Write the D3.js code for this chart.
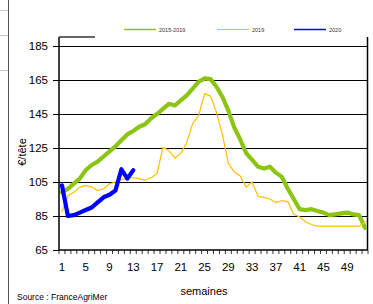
<!DOCTYPE html>
<html>
<head>
<meta charset="utf-8">
<script src="https://cdn.jsdelivr.net/npm/d3@7/dist/d3.min.js"></script>
<style>
  body { margin: 0; background: #fff; }
  svg { display: block; font-family: "Liberation Sans", Arial, sans-serif; }
</style>
</head>
<body>
<div id="chart"></div>
<script>
// semaines 1..52
weeks = d3.range(1, 53);
xTickLabels = [1, 5, 9, 13, 17, 21, 25, 29, 33, 37, 41, 45, 49];
yTicks = [65, 85, 105, 125, 145, 165, 185];

// moyenne 2015-2019
avg1519 = [99, 101, 104, 107, 112, 115, 117, 120, 123, 126,
    129.5, 133, 135, 137.5, 139, 142.5, 145, 148, 151, 150,
    153, 156, 160, 164, 166, 165.5, 161, 155, 147, 137,
    130, 122, 118, 114, 113, 114, 110.5, 108, 101, 95,
    89, 88.5, 89, 88, 87, 85.5, 86, 86.5, 87, 86,
    85.5, 78];
// 2019
y2019 = [87.5, 97, 99, 102, 103, 102, 100, 101, 104, 105,
    106.5, 107, 107.5, 107, 106, 107.5, 110, 125.5, 123.5, 119,
    122, 128, 139.5, 144, 157, 155.5, 146, 133, 116, 111,
    108.5, 102, 105, 96.5, 96, 95, 93, 94, 93.5, 86,
    84.5, 81.5, 80, 79, 79, 79, 79, 79, 79, 79,
    79, 81.5];
// 2020
y2020 = [103, 85, 85.5, 87, 88.5, 90, 93, 96, 97.5, 100, 112.5, 107, 112];

seriesNames = ["2015-2019", "2019", "2020"];
seriesColors = ["#8cc414", "#ffc000", "#0000ff"];
seriesWidths = [4.2, 1.2, 4.2];

width = 373;
height = 304;

svg = d3.select("#chart").append("svg")
    .attr("width", width)
    .attr("height", height);

// restes de la feuille de calcul a gauche
svg.append("line").attr("x1", 8.5).attr("x2", 8.5).attr("y1", 0).attr("y2", height)
    .attr("stroke", "#555").attr("stroke-width", 1);
[10.5, 35.5, 70.5].forEach(function (yy) {
    svg.append("line").attr("x1", 0).attr("x2", 8).attr("y1", yy).attr("y2", yy)
        .attr("stroke", "#c8c8c8");
});

/* Scales */
xScale = d3.scaleBand().domain(weeks).range([59, 368]).padding(0);
yScale = d3.scaleLinear().domain([65, 190.3]).range([250, 37]);
xc = function (w) { return xScale(w) + xScale.bandwidth() / 2; };

/* grid + y axis */
yAxis = d3.axisLeft(yScale).tickValues(yTicks).tickSize(6).tickPadding(5);
gy = svg.append("g")
    .attr("transform", "translate(59,0)")
    .call(yAxis);
gy.select(".domain").remove();
gy.selectAll(".tick line").attr("stroke", "#000");
gy.selectAll(".tick text")
    .attr("fill", "#000")
    .style("font-size", "11.5px");

svg.append("g").selectAll("line")
    .data(yTicks.filter(d => d > 65))
    .enter().append("line")
    .attr("x1", 59).attr("x2", 368)
    .attr("y1", d => Math.round(yScale(d)) + 0.5)
    .attr("y2", d => Math.round(yScale(d)) + 0.5)
    .attr("stroke", "#000")
    .attr("stroke-width", 1.2);

// cadre
svg.append("line").attr("x1", 59).attr("x2", 59).attr("y1", 37).attr("y2", 250)
    .attr("stroke", "#000").attr("stroke-width", 1.5);
svg.append("line").attr("x1", 367.5).attr("x2", 367.5).attr("y1", 37).attr("y2", 250)
    .attr("stroke", "#000").attr("stroke-width", 1.5);
svg.append("line").attr("x1", 59).attr("x2", 95).attr("y1", 37).attr("y2", 37)
    .attr("stroke", "#333").attr("stroke-width", 1.5);

/* x axis */
svg.append("line").attr("x1", 59).attr("x2", 368).attr("y1", 250).attr("y2", 250)
    .attr("stroke", "#000").attr("stroke-width", 1.5);
svg.append("g").selectAll("line")
    .data(weeks.concat([53]))
    .enter().append("line")
    .attr("x1", d => d <= 52 ? xScale(d) : 368)
    .attr("x2", d => d <= 52 ? xScale(d) : 368)
    .attr("y1", 250).attr("y2", 254)
    .attr("stroke", "#000").attr("stroke-width", 0.8);

svg.append("g").selectAll("text")
    .data(xTickLabels)
    .enter().append("text")
    .attr("x", d => xc(d))
    .attr("y", 271)
    .attr("text-anchor", "middle")
    .style("font-size", "11.5px")
    .text(d => d);

/* lines */
line = d3.line()
    .x((d, i) => xc(weeks[i]))
    .y(d => yScale(d))
    .curve(d3.curveLinear);

[avg1519, y2019, y2020].forEach(function (s, i) {
    svg.append("path")
        .datum(s)
        .attr("fill", "none")
        .attr("stroke", seriesColors[i])
        .attr("stroke-width", seriesWidths[i])
        .attr("stroke-linejoin", "round")
        .attr("stroke-linecap", "round")
        .attr("d", line);
});

/* legend */
legendX = [124, 217, 294];
seriesNames.forEach(function (n, i) {
    svg.append("line")
        .attr("x1", legendX[i]).attr("x2", legendX[i] + 32)
        .attr("y1", 29.5).attr("y2", 29.5)
        .attr("stroke", seriesColors[i])
        .attr("stroke-width", i == 1 ? 1 : 1.5);
    svg.append("text")
        .attr("x", legendX[i] + 35)
        .attr("y", 31.5)
        .attr("fill", "#333")
        .style("font-size", "5.5px")
        .text(n);
});

/* titles */
svg.append("text")
    .attr("transform", "translate(26,152) rotate(-90)")
    .attr("text-anchor", "middle")
    .style("font-size", "11px")
    .text("€/tête");

svg.append("text")
    .attr("x", 204)
    .attr("y", 295)
    .attr("text-anchor", "middle")
    .style("font-size", "11px")
    .text("semaines");

svg.append("text")
    .attr("x", 17)
    .attr("y", 300)
    .style("font-size", "8.5px")
    .text("Source : FranceAgriMer");
</script>
</body>
</html>
